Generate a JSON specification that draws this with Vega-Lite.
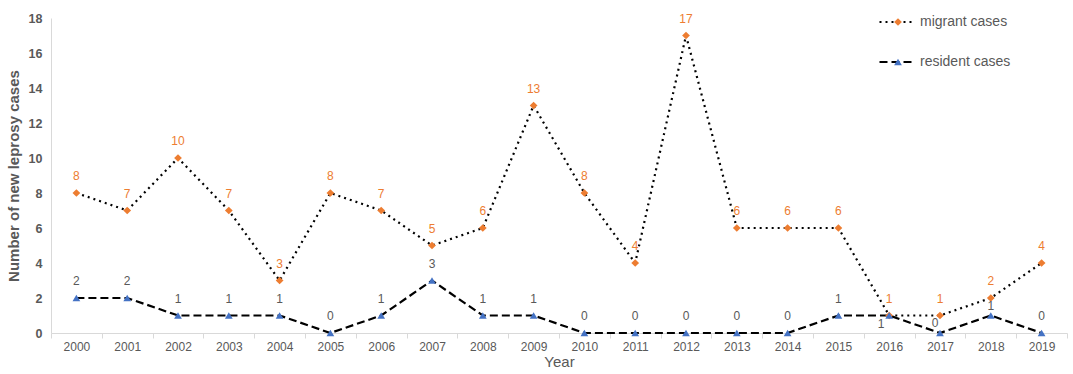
{
  "$schema": "https://vega.github.io/schema/vega-lite/v6.json",
  "width": 1016,
  "height": 315,
  "autosize": {"type": "none"},
  "padding": {"left": 51, "top": 18, "right": 6, "bottom": 41},
  "background": "white",
  "config": {"font": "Liberation Sans", "view": {"stroke": null}},
  "data": {"values": [
    {"year": "2000", "series": "migrant cases", "cases": 8},
    {"year": "2001", "series": "migrant cases", "cases": 7},
    {"year": "2002", "series": "migrant cases", "cases": 10},
    {"year": "2003", "series": "migrant cases", "cases": 7},
    {"year": "2004", "series": "migrant cases", "cases": 3},
    {"year": "2005", "series": "migrant cases", "cases": 8},
    {"year": "2006", "series": "migrant cases", "cases": 7},
    {"year": "2007", "series": "migrant cases", "cases": 5},
    {"year": "2008", "series": "migrant cases", "cases": 6},
    {"year": "2009", "series": "migrant cases", "cases": 13},
    {"year": "2010", "series": "migrant cases", "cases": 8},
    {"year": "2011", "series": "migrant cases", "cases": 4},
    {"year": "2012", "series": "migrant cases", "cases": 17},
    {"year": "2013", "series": "migrant cases", "cases": 6},
    {"year": "2014", "series": "migrant cases", "cases": 6},
    {"year": "2015", "series": "migrant cases", "cases": 6},
    {"year": "2016", "series": "migrant cases", "cases": 1},
    {"year": "2017", "series": "migrant cases", "cases": 1},
    {"year": "2018", "series": "migrant cases", "cases": 2},
    {"year": "2019", "series": "migrant cases", "cases": 4},
    {"year": "2000", "series": "resident cases", "cases": 2},
    {"year": "2001", "series": "resident cases", "cases": 2},
    {"year": "2002", "series": "resident cases", "cases": 1},
    {"year": "2003", "series": "resident cases", "cases": 1},
    {"year": "2004", "series": "resident cases", "cases": 1},
    {"year": "2005", "series": "resident cases", "cases": 0},
    {"year": "2006", "series": "resident cases", "cases": 1},
    {"year": "2007", "series": "resident cases", "cases": 3},
    {"year": "2008", "series": "resident cases", "cases": 1},
    {"year": "2009", "series": "resident cases", "cases": 1},
    {"year": "2010", "series": "resident cases", "cases": 0},
    {"year": "2011", "series": "resident cases", "cases": 0},
    {"year": "2012", "series": "resident cases", "cases": 0},
    {"year": "2013", "series": "resident cases", "cases": 0},
    {"year": "2014", "series": "resident cases", "cases": 0},
    {"year": "2015", "series": "resident cases", "cases": 1},
    {"year": "2016", "series": "resident cases", "cases": 1},
    {"year": "2017", "series": "resident cases", "cases": 0},
    {"year": "2018", "series": "resident cases", "cases": 1},
    {"year": "2019", "series": "resident cases", "cases": 0}
  ]},
  "encoding": {
    "x": {
      "field": "year", "type": "ordinal",
      "scale": {"type": "band", "paddingInner": 0, "paddingOuter": 0},
      "axis": {
        "title": "Year", "titleFontSize": 15, "titleFontWeight": "normal", "titleColor": "#595959", "titlePadding": 2,
        "labelAngle": 0, "labelFontSize": 12, "labelColor": "#595959", "labelPadding": 3,
        "domainColor": "#D9D9D9", "tickColor": "#D9D9D9", "tickSize": 5, "tickBand": "extent", "grid": false
      }
    },
    "y": {
      "field": "cases", "type": "quantitative",
      "scale": {"domain": [0, 18], "nice": false},
      "axis": {
        "title": "Number of new leprosy cases", "titleFontSize": 15, "titleFontWeight": "bold", "titleColor": "#595959", "titlePadding": 7,
        "values": [0, 2, 4, 6, 8, 10, 12, 14, 16, 18],
        "labelFontSize": 12.5, "labelFontWeight": "bold", "labelColor": "#595959", "labelPadding": 9,
        "domainColor": "#D9D9D9", "ticks": false, "grid": false
      }
    }
  },
  "layer": [
    {
      "mark": {"type": "line", "color": "black", "strokeWidth": 2.2},
      "encoding": {
        "strokeDash": {
          "field": "series", "type": "nominal",
          "scale": {"domain": ["migrant cases", "resident cases"], "range": [[2, 4], [8, 4]]},
          "legend": {
            "title": null, "orient": "none", "legendX": 827, "legendY": -11,
            "symbolType": "stroke", "symbolSize": 1225, "symbolStrokeColor": "black", "symbolStrokeWidth": 2.2,
            "labelFontSize": 14, "labelColor": "#595959", "labelOffset": 4,
            "clipHeight": 30, "rowPadding": 10, "padding": 0
          }
        }
      }
    },
    {
      "mark": {"type": "point", "filled": true, "opacity": 1, "size": 60},
      "encoding": {
        "color": {
          "field": "series", "type": "nominal",
          "scale": {"range": ["#ED7D31", "#4472C4"]},
          "legend": {
            "title": null, "orient": "none", "legendX": 840, "legendY": -11,
            "labelExpr": "''", "labelFontSize": 14, "symbolSize": 60, "symbolOpacity": 1,
            "clipHeight": 30, "rowPadding": 10, "padding": 0
          }
        },
        "shape": {
          "field": "series", "type": "nominal",
          "scale": {"range": ["diamond", "triangle-up"]},
          "legend": {
            "title": null, "orient": "none", "legendX": 840, "legendY": -11,
            "labelExpr": "''", "labelFontSize": 14, "symbolSize": 60,
            "clipHeight": 30, "rowPadding": 10, "padding": 0
          }
        }
      }
    },
    {
      "transform": [{"filter": "datum.series == 'migrant cases'"}],
      "mark": {"type": "text", "dy": -17, "color": "#ED7D31", "fontSize": 12},
      "encoding": {"text": {"field": "cases", "type": "quantitative"}}
    },
    {
      "transform": [{"filter": "datum.series == 'resident cases' && datum.year != '2016' && datum.year != '2017' && datum.year != '2018'"}],
      "mark": {"type": "text", "dy": -17, "color": "#595959", "fontSize": 12},
      "encoding": {"text": {"field": "cases", "type": "quantitative"}}
    },
    {
      "transform": [{"filter": "datum.series == 'resident cases' && datum.year == '2016'"}],
      "mark": {"type": "text", "dx": -8, "dy": 8, "color": "#595959", "fontSize": 12},
      "encoding": {"text": {"field": "cases", "type": "quantitative"}}
    },
    {
      "transform": [{"filter": "datum.series == 'resident cases' && datum.year == '2017'"}],
      "mark": {"type": "text", "dx": -5, "dy": -10, "color": "#595959", "fontSize": 12},
      "encoding": {"text": {"field": "cases", "type": "quantitative"}}
    },
    {
      "transform": [{"filter": "datum.series == 'resident cases' && datum.year == '2018'"}],
      "mark": {"type": "text", "dy": -10, "color": "#595959", "fontSize": 12},
      "encoding": {"text": {"field": "cases", "type": "quantitative"}}
    }
  ]
}
